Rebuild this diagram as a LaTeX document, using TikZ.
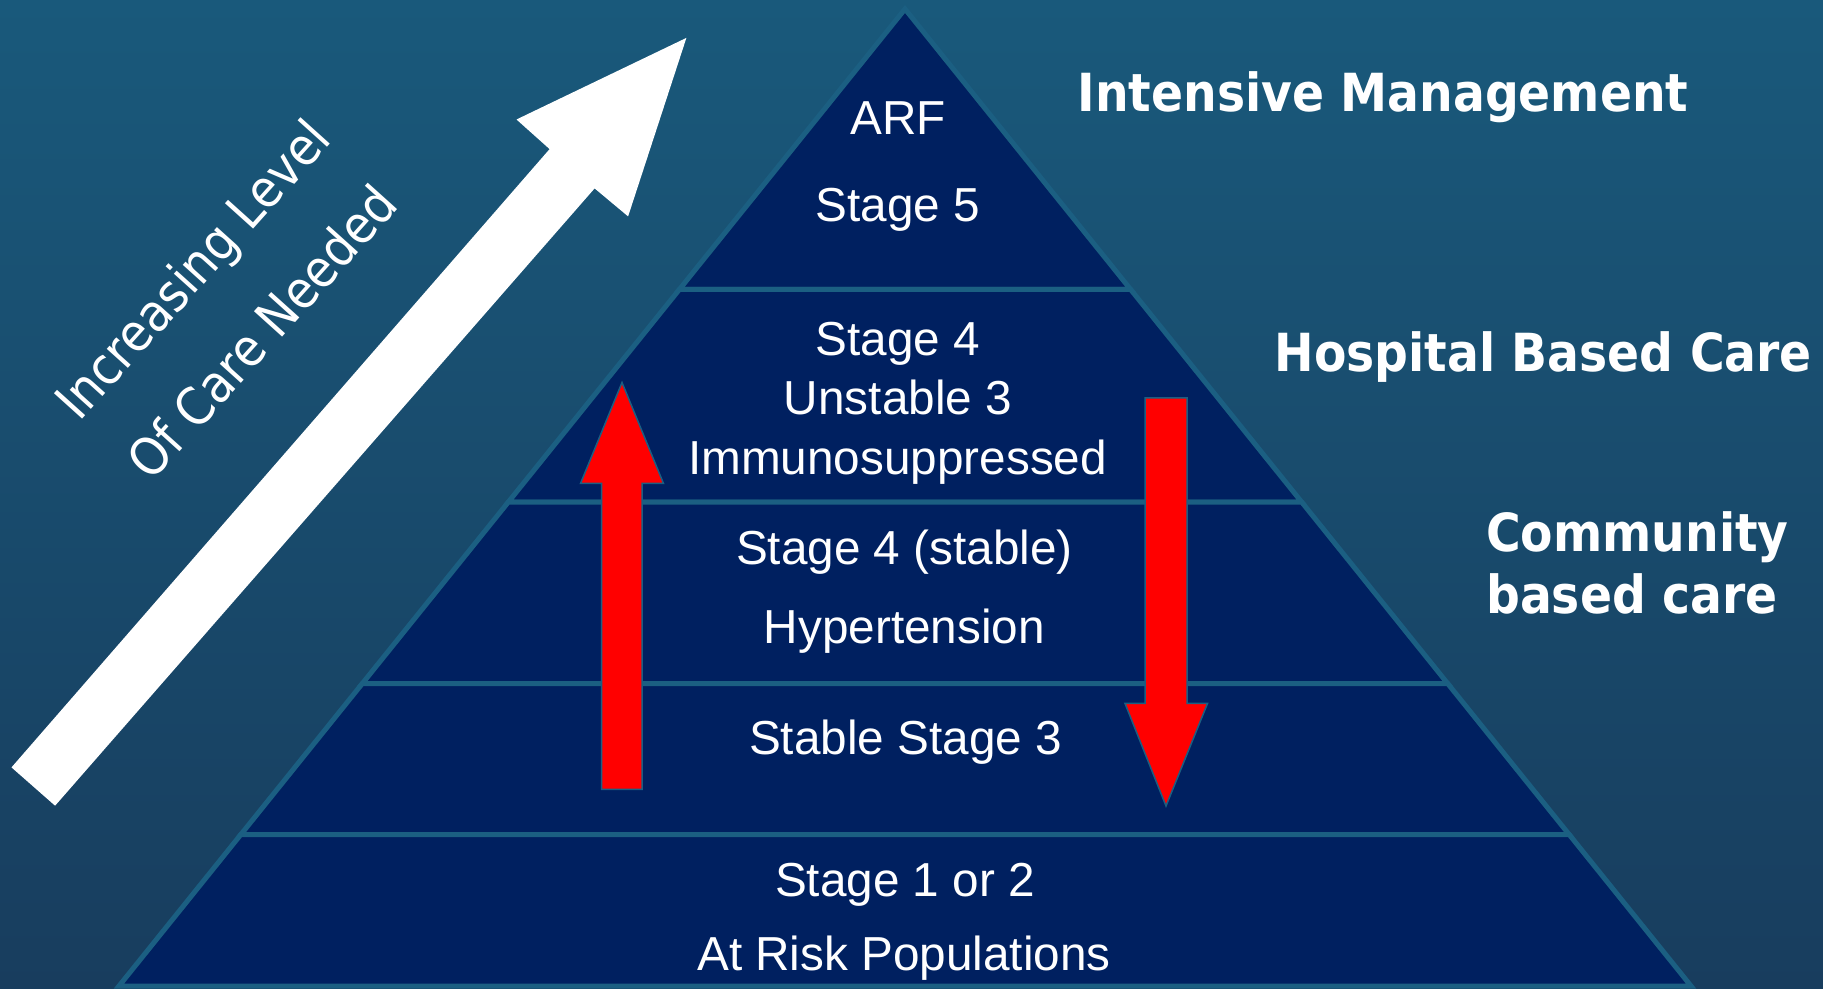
\documentclass[tikz,border=0pt]{standalone}
\usepackage{fontspec}
\setmainfont{Liberation Sans}
\newfontfamily\condfont{DejaVu Sans Condensed}

\definecolor{bgtop}{HTML}{19597B}
\definecolor{bgbottom}{HTML}{183D5E}
\definecolor{navy}{HTML}{002060}
\definecolor{rim}{HTML}{1B5F82}

\tikzset{
  layer/.style={fill=navy, draw=rim, line width=5pt},
  redarrow/.style={fill=red, draw=rim, line width=1.5pt},
  stage/.style={text=white, inner sep=0pt, anchor=base, font=\fontsize{47.7}{57}\selectfont},
  side/.style={text=white, inner sep=0pt, anchor=base west, font=\condfont\bfseries\fontsize{52.5}{62}\selectfont},
  slant/.style={text=white, inner sep=0pt, rotate=48, align=center, font=\condfont\fontsize{52}{94}\selectfont}
}

\begin{document}
\begin{tikzpicture}[x=1pt, y=1pt]

\shade[top color=bgtop, bottom color=bgbottom] (0,0) rectangle (1823,988);
\useasboundingbox (0,0) rectangle (1823,988);

% pyramid, one trapezoid per band
\foreach \hi/\lo in {979/698.5, 698.5/485.8, 485.8/304.4, 304.4/153.3, 153.3/2}
  \filldraw[layer] ({905-(979-\hi)*0.8045},\hi) -- ({905+(979-\hi)*0.8045},\hi)
    -- ({905+(979-\lo)*0.8045},\lo) -- ({905-(979-\lo)*0.8045},\lo) -- cycle;

\fill[white] (11.5,220.6) -- (549.6,838.9) -- (516.5,868.5) -- (686.4,950.1)
  -- (628.1,771.6) -- (594.6,799.6) -- (55.1,182.3) -- cycle;

\filldraw[redarrow] (601.5,198.5) -- (601.5,504.5) -- (580.5,504.5) -- (622,605.5)
  -- (663.5,504.5) -- (642,504.5) -- (642,198.5) -- cycle;

\filldraw[redarrow] (1145,590) -- (1145,284.5) -- (1125,284.5) -- (1166,182)
  -- (1207.5,284.5) -- (1187,284.5) -- (1187,590) -- cycle;

\node[slant] (careneed) at (227,688) {Increasing Level\\Of Care Needed};

\node[stage] (arf) at (898,853) {ARF};
\node[stage] (stagefive) at (898,766.3) {Stage 5};
\node[stage] (stagefour) at (898,632.2) {Stage 4};
\node[stage] (unstable) at (898,573) {Unstable 3};
\node[stage] (immuno) at (897.5,513) {Immunosuppressed};
\node[stage] (stablefour) at (904.5,423) {Stage 4 (stable)};
\node[stage] (hyper) at (904.5,344.7) {Hypertension};
\node[stage] (stablethree) at (905.5,233) {Stable Stage 3};
\node[stage] (early) at (905,92) {Stage 1 or 2};
\node[stage] (atrisk) at (904,17.3) {At Risk Populations};

\node[side] (intensive) at (1077.5,876) {Intensive Management};
\node[side] (hospital) at (1274.5,616) {Hospital Based Care};
\node[side] (community) at (1486,436) {Community};
\node[side] (basedcare) at (1486,374) {based care};

\end{tikzpicture}
\end{document}
